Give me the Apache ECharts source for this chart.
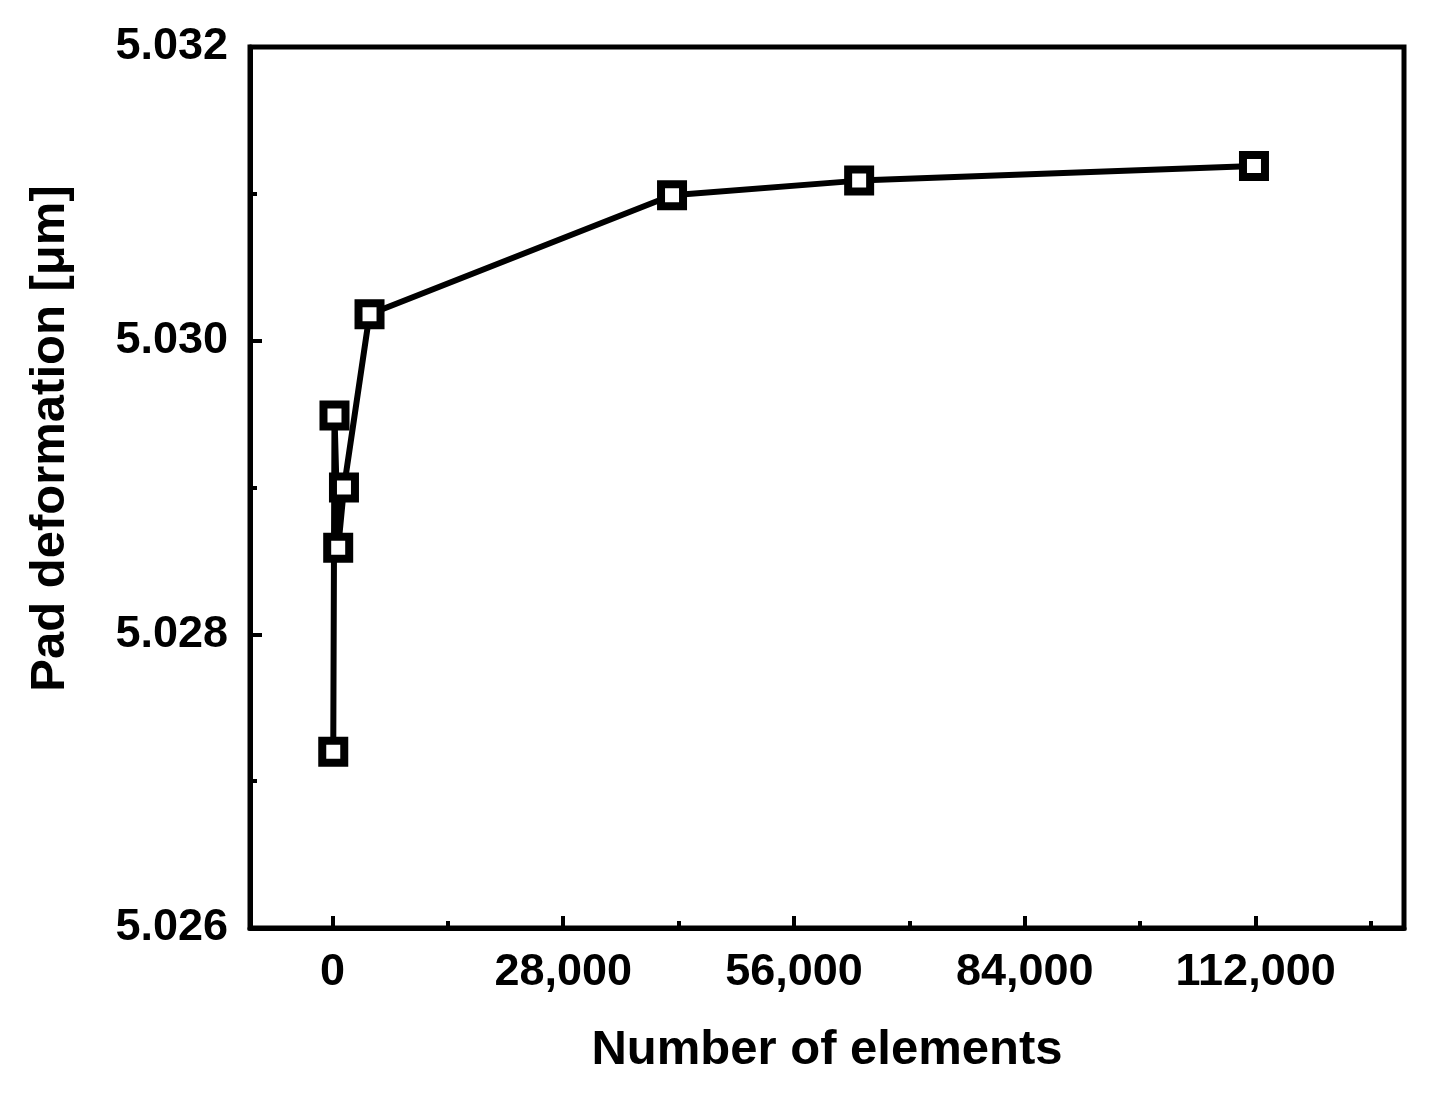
<!DOCTYPE html>
<html lang="en">
<head>
  <meta charset="UTF-8">
  <title>Pad deformation vs number of elements</title>
  <script src="https://cdn.jsdelivr.net/npm/echarts@6/dist/echarts.min.js"></script>
  <style>
    html, body { margin: 0; padding: 0; background: #fff; }
    #chart { width: 1438px; height: 1098px; }
  </style>
</head>
<body>
  <div id="chart"></div>
  <script>
    // mesh convergence data
    var elements = [100, 250, 700, 1400, 4500, 41200, 63900, 111800];
    var deformation = [5.02720, 5.02949, 5.02859, 5.02900, 5.03018, 5.03099, 5.03109, 5.03119];

    var xMajor = [0, 28000, 56000, 84000, 112000];
    var xMinor = [14000, 42000, 70000, 98000, 126000];

    var pts = [];
    for (var i = 0; i < elements.length; i++) {
      pts.push([elements[i], deformation[i]]);
    }

    var fnt = 'Liberation Sans, Arial, sans-serif';

    var oChart = echarts.init(document.getElementById('chart'));
    var opt = {
      animation: false,
      grid: {
        left: 250, right: 34, top: 47, bottom: 170,
        show: true,
        borderColor: '#000',
        borderWidth: 5
      },
      xAxis: [
        {
          type: 'value',
          position: 'bottom',
          min: -10000,
          max: 130000,
          name: 'Number of elements',
          nameLocation: 'middle',
          nameGap: 98,
          nameTextStyle: { fontFamily: fnt, fontWeight: 'bold', fontSize: 49, color: '#000' },
          axisLine: { onZero: false, lineStyle: { color: '#000', width: 5 } },
          axisTick: { inside: true, length: 12, lineStyle: { width: 4, color: '#000' }, customValues: xMajor },
          axisLabel: {
            customValues: xMajor,
            margin: 22,
            fontFamily: fnt, fontWeight: 'bold', fontSize: 45, color: '#000',
            formatter: function (v) { return Number(v).toLocaleString('en-US'); }
          },
          splitLine: { show: false }
        },
        {
          type: 'value',
          position: 'bottom',
          min: -10000,
          max: 130000,
          axisLine: { show: false, onZero: false },
          axisTick: { inside: true, length: 7, lineStyle: { width: 4, color: '#000' }, customValues: xMinor },
          axisLabel: { show: false },
          splitLine: { show: false }
        }
      ],
      yAxis: {
        type: 'value',
        min: 5.026,
        max: 5.032,
        interval: 0.002,
        name: 'Pad deformation [μm]',
        nameLocation: 'middle',
        nameRotate: 90,
        nameGap: 175,
        nameTextStyle: { fontFamily: fnt, fontWeight: 'bold', fontSize: 49, color: '#000', padding: [0, 0, 0, 98] },
        axisLine: { show: true, onZero: false, lineStyle: { color: '#000', width: 5 } },
        axisTick: { inside: true, length: 12, lineStyle: { width: 4, color: '#000' } },
        minorTick: { show: true, splitNumber: 2, length: 7, lineStyle: { width: 4, color: '#000' } },
        axisLabel: {
          margin: 22,
          fontFamily: fnt, fontWeight: 'bold', fontSize: 45, color: '#000',
          formatter: function (v) { return v.toFixed(3); }
        },
        splitLine: { show: false }
      },
      series: [
        {
          type: 'line',
          data: pts,
          symbol: 'rect',
          symbolSize: 22,
          lineStyle: { color: '#000', width: 6 },
          itemStyle: { color: '#fff', borderColor: '#000', borderWidth: 8 }
        }
      ]
    };
    oChart.setOption(opt);
  </script>
</body>
</html>
